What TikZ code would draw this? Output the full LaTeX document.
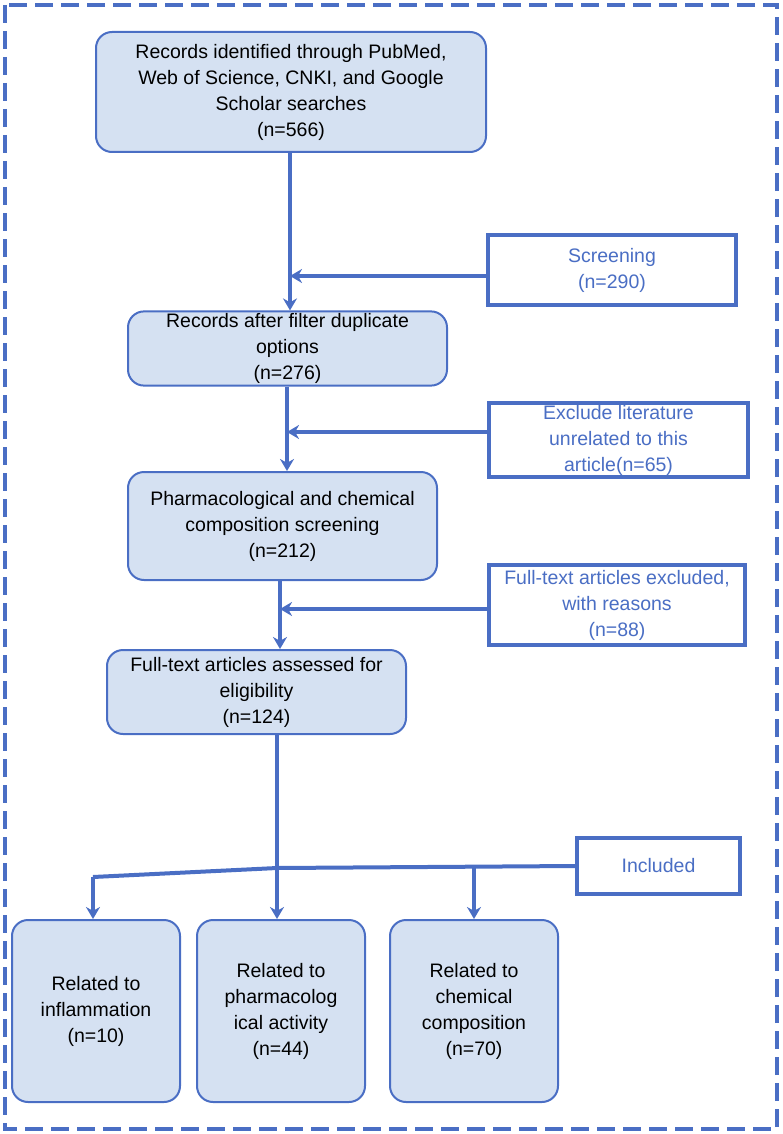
\documentclass[tikz,border=0pt]{standalone}
\usepackage{fontspec}
\setmainfont{Liberation Sans}
\usepackage{xcolor}
\usetikzlibrary{positioning,arrows.meta}
\definecolor{frameblue}{HTML}{4A6EC4}
\definecolor{boxfill}{HTML}{D5E1F2}
\begin{document}
\begin{tikzpicture}[x=1pt,y=-1pt,
    stage/.style={draw=frameblue, line width=2pt, rounded corners=16pt, fill=boxfill, align=center, font=\fontsize{19.5}{26}\selectfont, inner sep=2pt},
    note/.style={draw=frameblue, line width=3.5pt, fill=white, text=frameblue, align=center, font=\fontsize{19.5}{26}\selectfont, inner sep=2pt},
    link/.style={draw=frameblue, line width=4pt, -{Stealth[length=12pt,width=14pt]}}]
        % frame
        \useasboundingbox (0,0) rectangle (782,1134);
        \draw [frameblue, line width=4pt, dash pattern=on 18pt off 8pt] (5,5) rectangle (777,1129);

        % main column
        \node (records) [stage, minimum width=390pt, minimum height=120pt] at (291,92) {Records identified through PubMed,\\Web of Science, CNKI, and Google\\Scholar searches\\(n=566)};
        \node (filtered) [stage, minimum width=319pt, minimum height=73pt] at (287.5,348.5) {Records after filter duplicate\\options\\(n=276)};
        \node (pharma) [stage, minimum width=309pt, minimum height=108pt] at (282.5,526) {Pharmacological and chemical\\composition screening\\(n=212)};
        \node (fulltext) [stage, minimum width=299pt, minimum height=84pt] at (256.5,692) {Full-text articles assessed for\\eligibility\\(n=124)};

        % side notes
        \node (screening) [note, minimum width=248pt, minimum height=70pt] at (612,270) {Screening\\(n=290)};
        \node (exclude) [note, minimum width=259pt, minimum height=64pt] at (618.5,440) {Exclude literature\\unrelated to this\\article(n=65)};
        \node (excluded) [note, minimum width=256pt, minimum height=80pt] at (617,605) {Full-text articles excluded,\\with reasons\\(n=88)};
        \node (included) [note, minimum width=163pt, minimum height=56pt] at (658.5,866) {Included};

        % results
        \node (inflam) [stage, minimum width=168pt, minimum height=182pt] at (96,1011) {Related to\\inflammation\\(n=10)};
        \node (activity) [stage, minimum width=168pt, minimum height=182pt] at (281,1011) {Related to\\pharmacolog\\ical activity\\(n=44)};
        \node (chem) [stage, minimum width=168pt, minimum height=182pt] at (474,1011) {Related to\\chemical\\composition\\(n=70)};

        % connectors
        \coordinate (m1) at (290,276);
        \coordinate (m2) at (287,432);
        \coordinate (m3) at (280,609);
        \coordinate (m4) at (277,868);
        \coordinate (left) at (93,877);
        \coordinate (right) at (474,868);
        \draw [link] (records.south -| m1) -- (filtered.north -| m1);
        \draw [link] (screening.west |- m1) -- (m1);
        \draw [link] (filtered.south -| m2) -- (pharma.north -| m2);
        \draw [link] (exclude.west |- m2) -- (m2);
        \draw [link] (pharma.south -| m3) -- (fulltext.north -| m3);
        \draw [link] (excluded.west |- m3) -- (m3);
        \draw [link] (fulltext.south -| m4) -- (activity.north -| m4);
        \draw [frameblue, line width=4pt] (included.west) -- (m4) -- (left);
        \draw [link] (left) -- (left |- inflam.north);
        \draw [link] (right) -- (chem.north -| right);
\end{tikzpicture}
\end{document}
